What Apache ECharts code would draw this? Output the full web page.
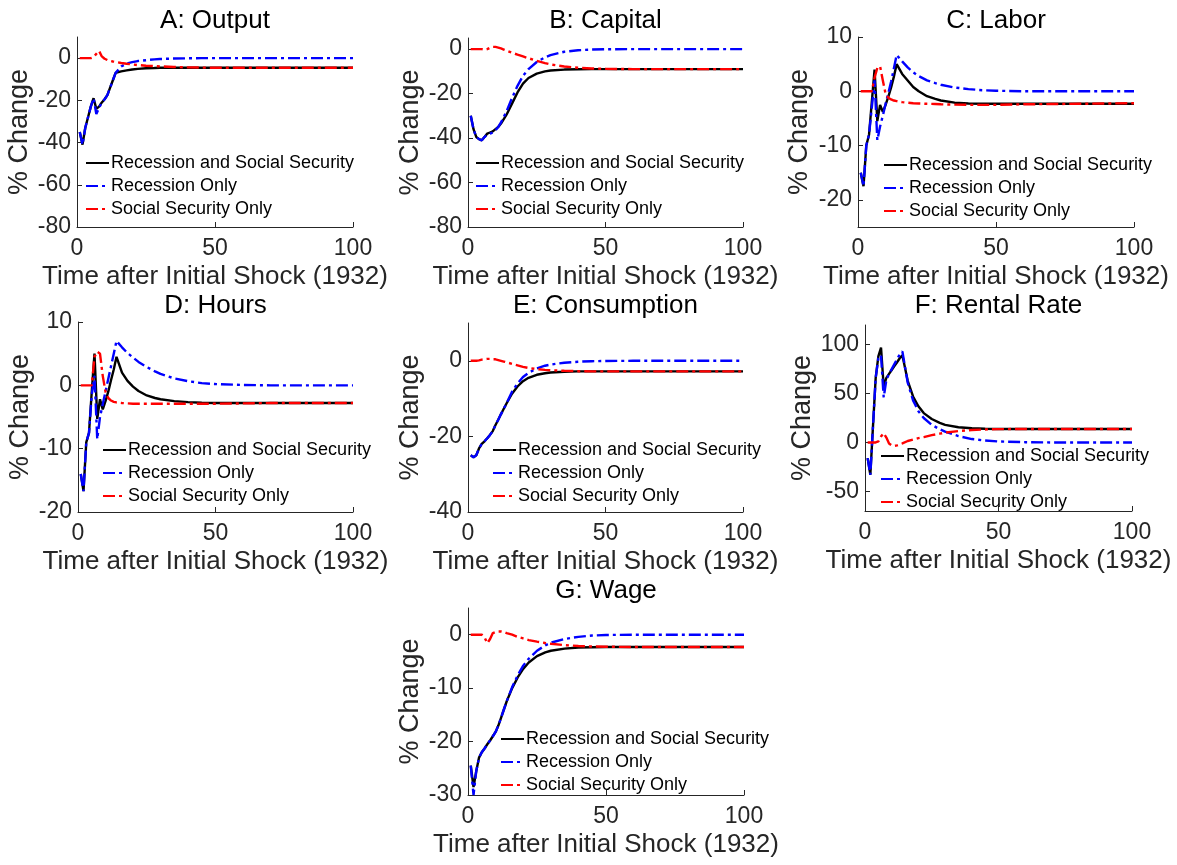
<!DOCTYPE html>
<html>
<head>
<meta charset="utf-8">
<script src="https://cdn.jsdelivr.net/npm/echarts@6/dist/echarts.min.js"></script>
<style>
html,body{margin:0;padding:0;background:#ffffff;}
#chart{width:1177px;height:865px;}
</style>
</head>
<body>
<div id="chart"></div>
<script>
// ---------------- DATA ----------------
const seriesNames = ['Recession and Social Security', 'Recession Only', 'Social Security Only'];
const panelTitles = ['A: Output', 'B: Capital', 'C: Labor', 'D: Hours', 'E: Consumption', 'F: Rental Rate', 'G: Wage'];
const xName = 'Time after Initial Shock (1932)';
const yName = '% Change';
const xTicks = [0, 50, 100];

// sampled time points (years after shock)
const T = [1,2,3,4,5,6,7,8,9,10,11,12,13,14,16,18,20,22,25,28,30,35,40,45,50,60,70,80,90,100];

// A: Output
const outputBoth   = [-35,-41,-33,-28,-23,-19,-24,-23,-21,-19.5,-17.5,-14,-10.5,-7,-6.3,-5.8,-5.4,-5.1,-4.8,-4.7,-4.6,-4.6,-4.6,-4.6,-4.6,-4.6,-4.6,-4.6,-4.6,-4.6];
const outputRec    = [-35,-41,-33,-28,-23,-19,-26.5,-23.5,-21,-19.5,-17.5,-14,-10.5,-7,-4,-2.6,-1.9,-1.4,-1,-0.6,-0.45,-0.2,-0.1,0,0,0,0,0,0,0];
const outputSS     = [0,0,0,0,0,0.5,2,3.4,0.8,-0.3,-0.9,-1.3,-1.6,-1.8,-2.3,-2.7,-3,-3.3,-3.6,-3.8,-3.9,-4.2,-4.4,-4.5,-4.55,-4.6,-4.6,-4.6,-4.6,-4.6];
// B: Capital
const capitalBoth  = [-30,-36,-39.5,-40.5,-41,-39.5,-38,-37.5,-37,-36,-35,-33.5,-31.5,-29.5,-24.5,-19.5,-15.5,-13,-11,-10,-9.6,-9.2,-9.05,-9,-9,-9,-9,-9,-9,-9];
const capitalRec   = [-30,-36,-39.5,-40.5,-41,-39.5,-38.5,-38,-37.5,-36.5,-35,-33,-30.5,-28,-22,-16.5,-12,-9,-5.8,-3.7,-2.7,-1.2,-0.5,-0.2,-0.05,0,0,0,0,0];
const capitalSS    = [0,0,0,0,0,-0.3,0,0.6,1,1,0.7,0.3,-0.2,-0.7,-1.6,-2.5,-3.3,-4.1,-5.3,-6.3,-6.9,-7.8,-8.4,-8.7,-8.85,-9,-9,-9,-9,-9];
// C: Labor
const laborBoth    = [-15,-17.5,-10,-8,-2,4,-5.5,-2.5,-3.8,-2.5,-1,0.7,2.7,5,3.2,2,0.8,0,-0.9,-1.4,-1.7,-2.1,-2.25,-2.3,-2.3,-2.3,-2.3,-2.3,-2.3,-2.3];
const laborRec     = [-15,-17.5,-10,-8,-3,2,-9,-6.5,-4.5,-2.3,-0.3,1.8,4.2,6.7,5.5,4.4,3.5,2.8,2,1.5,1.2,0.7,0.4,0.2,0.1,0,0,0,0,0];
const laborSS      = [0,0,0,0,0,2.5,4.3,4.6,2,-0.5,-1.2,-1.5,-1.7,-1.8,-2,-2.1,-2.2,-2.25,-2.3,-2.35,-2.4,-2.45,-2.5,-2.5,-2.5,-2.4,-2.35,-2.3,-2.25,-2.2];
// D: Hours
const hoursBoth    = [-14,-16.7,-9,-7.5,-1,5,-5.3,-2.2,-3.8,-2.5,-1,0.8,2.5,4.5,2,0.7,-0.2,-0.9,-1.6,-2,-2.2,-2.5,-2.65,-2.75,-2.8,-2.8,-2.8,-2.8,-2.8,-2.8];
const hoursRec     = [-14,-16.7,-9,-7.5,-1.5,1.5,-8.5,-5,-3,-1,1,3,5,7,6,5.1,4.4,3.7,2.9,2.2,1.8,1.1,0.65,0.35,0.2,0.05,0,0,0,0];
const hoursSS      = [0,0,0,0,0,4.5,5.3,5,1.5,-1,-2,-2.4,-2.6,-2.7,-2.8,-2.85,-2.9,-2.9,-2.9,-2.9,-2.9,-2.9,-2.9,-2.9,-2.9,-2.85,-2.8,-2.8,-2.8,-2.8];
// E: Consumption
const consBoth     = [-25,-25.5,-25,-23.2,-22,-21.3,-20.5,-19.6,-18.6,-17,-15.6,-14.1,-12.7,-11.3,-8.7,-6.8,-5.4,-4.5,-3.7,-3.3,-3.1,-2.9,-2.8,-2.8,-2.8,-2.8,-2.8,-2.8,-2.8,-2.8];
const consRec      = [-25,-25.5,-25,-23.2,-22,-21.3,-20.5,-19.6,-18.6,-17,-15.6,-14.1,-12.7,-11.3,-8.2,-6,-4.3,-3.2,-2,-1.3,-1,-0.5,-0.25,-0.1,-0.05,0,0,0,0,0];
const consSS       = [0,0,0,0.1,0.3,0.4,0.5,0.5,0.4,0.4,0.2,0,-0.2,-0.4,-0.8,-1.2,-1.6,-1.9,-2.2,-2.4,-2.5,-2.65,-2.75,-2.8,-2.8,-2.8,-2.8,-2.8,-2.8,-2.8];
// F: Rental Rate
const rentBoth     = [-16,-33,17,66,88,97,57,66,70,74,78,82,86,89,63,47,37,30,24,20,18,15.5,14.5,14,13.8,13.8,13.8,13.8,13.8,13.8];
const rentRec      = [-16,-33,17,66,86,89,46,64,70,75,80,85,90,93,61,43,32,25,18,13.5,11,6.5,3.5,2,1,0.3,0,0,0,0];
const rentSS       = [0,0,0,0,1,6,9.5,5,-1,-3,-3.5,-3,-2,-1,1.5,3,4.5,5.5,7.5,9,10,11.7,12.7,13.3,13.6,13.8,13.8,13.8,13.8,13.8];
// G: Wage
const wageBoth     = [-24.5,-28.5,-25.5,-23,-22,-21.3,-20.5,-19.8,-19,-18.2,-17,-15.5,-14,-12.5,-10,-8,-6.4,-5.2,-4,-3.3,-3,-2.6,-2.4,-2.35,-2.3,-2.3,-2.3,-2.3,-2.3,-2.3];
const wageRec      = [-24.5,-30,-25.5,-23,-22,-21.3,-20.5,-19.8,-19,-18.2,-17,-15.5,-14,-12.5,-9.8,-7.6,-5.8,-4.5,-3,-2,-1.5,-0.8,-0.4,-0.15,-0.05,0,0,0,0,0];
const wageSS       = [0,0,0,0,0,-0.5,-1.6,-0.8,0.3,0.5,0.6,0.6,0.5,0.3,0,-0.4,-0.7,-1,-1.3,-1.55,-1.7,-1.95,-2.1,-2.2,-2.25,-2.3,-2.3,-2.3,-2.3,-2.3];

// y-axis ranges and tick labels
const yRangeA = [-80, 10],  yTicksA = [-80,-60,-40,-20,0];
const yRangeB = [-80, 5],   yTicksB = [-80,-60,-40,-20,0];
const yRangeC = [-25, 10],  yTicksC = [-20,-10,0,10];
const yRangeD = [-20, 10],  yTicksD = [-20,-10,0,10];
const yRangeE = [-40, 10],  yTicksE = [-40,-20,0];
const yRangeF = [-70, 120], yTicksF = [-50,0,50,100];
const yRangeG = [-30, 5],   yTicksG = [-30,-20,-10,0];

// ---------------- LAYOUT / STYLE ----------------
const panels = [
  {title: panelTitles[0], data: [outputBoth, outputRec, outputSS],   yr: yRangeA, yt: yTicksA},
  {title: panelTitles[1], data: [capitalBoth, capitalRec, capitalSS], yr: yRangeB, yt: yTicksB},
  {title: panelTitles[2], data: [laborBoth, laborRec, laborSS],       yr: yRangeC, yt: yTicksC},
  {title: panelTitles[3], data: [hoursBoth, hoursRec, hoursSS],       yr: yRangeD, yt: yTicksD},
  {title: panelTitles[4], data: [consBoth, consRec, consSS],          yr: yRangeE, yt: yTicksE},
  {title: panelTitles[5], data: [rentBoth, rentRec, rentSS],          yr: yRangeF, yt: yTicksF},
  {title: panelTitles[6], data: [wageBoth, wageRec, wageSS],          yr: yRangeG, yt: yTicksG}
];
const layout = [
  {grid:{left:77, top:37, width:276, height:190},  legend:{left:85, top:154}, titleY:8,   nameGap:44},
  {grid:{left:468, top:38, width:275, height:189}, legend:{left:475, top:154}, titleY:8,  nameGap:44},
  {grid:{left:858, top:37, width:276, height:190}, legend:{left:883, top:156}, titleY:8,  nameGap:45},
  {grid:{left:78, top:322, width:275, height:190}, legend:{left:102, top:441}, titleY:293, nameGap:44},
  {grid:{left:468, top:323, width:275, height:189}, legend:{left:492, top:441}, titleY:293, nameGap:44},
  {grid:{left:865, top:325, width:267, height:186}, legend:{left:880, top:447}, titleY:293, nameGap:49},
  {grid:{left:468, top:608, width:276, height:187}, legend:{left:500, top:730}, titleY:578, nameGap:44}
];
const FONT = '"Liberation Sans", Arial, Helvetica, sans-serif';
const AXIS_COLOR = '#262626';
const lineStyles = [
  {color:'#000000', width:2.4, type:'solid'},
  {color:'#0000ff', width:2.4, type:[12,4,3,4]},
  {color:'#ff0000', width:2.4, type:[12,4,3,4]}
];

const option = {
  animation: false,
  backgroundColor: '#ffffff',
  textStyle: {fontFamily: FONT},
  title: [], grid: [], xAxis: [], yAxis: [], legend: [], series: []
};

panels.forEach((p, i) => {
  const L = layout[i];
  option.grid.push(Object.assign({containLabel:false}, L.grid));
  option.title.push({
    text: p.title, left: L.grid.left + L.grid.width/2, top: L.titleY,
    textAlign: 'center', padding: 0,
    textStyle: {fontSize: 26, fontWeight: 'normal', color: '#000', fontFamily: FONT}
  });
  option.xAxis.push({
    type: 'value', gridIndex: i, min: 0, max: 100, interval: 50,
    name: xName, nameLocation: 'middle', nameGap: 37,
    nameTextStyle: {fontSize: 26, color: AXIS_COLOR, fontFamily: FONT},
    axisLine: {onZero: false, lineStyle: {color: AXIS_COLOR, width: 1}},
    axisTick: {inside: true, length: 5, lineStyle: {color: AXIS_COLOR}, customValues: xTicks},
    axisLabel: {fontSize: 23, color: AXIS_COLOR, margin: 10, fontFamily: FONT, customValues: xTicks},
    splitLine: {show: false}
  });
  option.yAxis.push({
    type: 'value', gridIndex: i, min: p.yr[0], max: p.yr[1],
    name: yName, nameLocation: 'middle', nameGap: L.nameGap, nameRotate: 90,
    nameTextStyle: {fontSize: 27, color: AXIS_COLOR, fontFamily: FONT},
    axisLine: {onZero: false, lineStyle: {color: AXIS_COLOR, width: 1}},
    axisTick: {inside: true, length: 5, lineStyle: {color: AXIS_COLOR}, customValues: p.yt},
    axisLabel: {fontSize: 23, color: AXIS_COLOR, margin: 6, fontFamily: FONT, customValues: p.yt},
    splitLine: {show: false}
  });
  option.legend.push({
    orient: 'vertical', left: L.legend.left, top: L.legend.top, padding: 0,
    itemGap: 5, itemWidth: 23, itemHeight: 18, selectedMode: false,
    itemStyle: {color: 'rgba(0,0,0,0)', borderWidth: 0, opacity: 0},
    textStyle: {fontSize: 18, color: '#000', fontFamily: FONT, padding: [0, 0, 0, -3]},
    data: seriesNames
  });
  p.data.forEach((arr, k) => {
    option.series.push({
      name: seriesNames[k], type: 'line', xAxisIndex: i, yAxisIndex: i,
      symbol: 'none', showSymbol: false, smooth: false, clip: true,
      lineStyle: lineStyles[k], itemStyle: {color: lineStyles[k].color},
      emphasis: {disabled: true}, z: 2 + k,
      data: T.map((t, j) => [t, arr[j]])
    });
  });
});

const chart = echarts.init(document.getElementById('chart'), null, {renderer: 'canvas'});
chart.setOption(option);
</script>
</body>
</html>
